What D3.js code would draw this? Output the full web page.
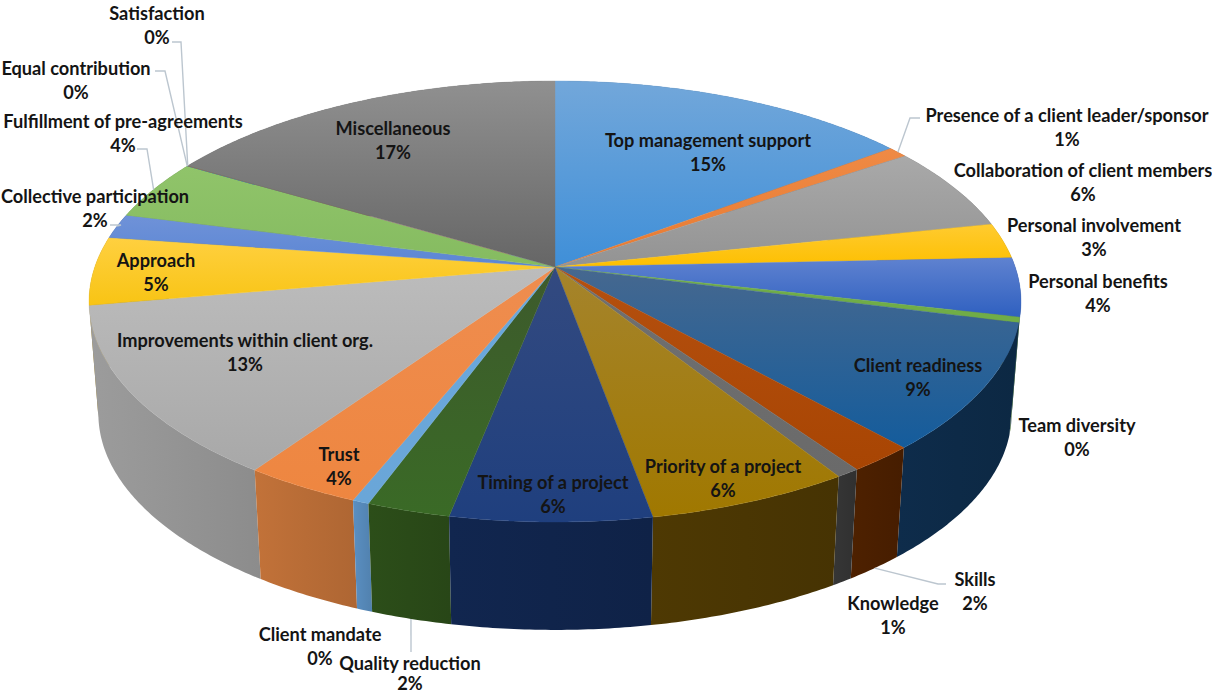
<!DOCTYPE html>
<html><head><meta charset="utf-8">
<script src="https://cdn.jsdelivr.net/npm/d3@7"></script>
<style>html,body{margin:0;padding:0;background:#fff;overflow:hidden}svg{display:block}
text{font-family:Lato,"Open Sans",sans-serif;font-weight:700;font-size:18.2px;fill:#141414;text-anchor:middle}</style>
</head><body><svg id="c" width="1212" height="693"></svg>
<script>
const categories=["Top management support","Presence of a client leader/sponsor","Collaboration of client members","Personal involvement","Personal benefits","Team diversity","Client readiness","Skills","Knowledge","Priority of a project","Timing of a project","Quality reduction","Client mandate","Trust","Improvements within client org.","Approach","Collective participation","Fulfillment of pre-agreements","Equal contribution","Satisfaction","Miscellaneous"];
const values=[14.7,0.8,6.2,2.6,4.3,0.4,9.3,2.0,0.7,6.1,6.0,2.5,0.5,3.5,12.6,5.0,1.8,4.4,0.03,0.03,16.5];
const percentLabels=["15%","1%","6%","3%","4%","0%","9%","2%","1%","6%","6%","2%","0%","4%","13%","5%","2%","4%","0%","0%","17%"];
const topStart=["#72a7da","#ef8a45","#a9a9a9","#ffcb30","#5f82d0","#70AD47","#46688f","#b5500f","#707070","#a5842c","#334a80","#3d5a2c","#6aa8dc","#ef8d4f","#bcbcbc","#ffd040","#6f92d8","#90c46a","#327DC2","#D26012","#909090"];
const topEnd=["#3f8fd8","#e87a30","#939393","#fdbf00","#2f60c0","#70AD47","#145c9c","#a84503","#6a6a6a","#a07800","#1f3f7e","#3a6a26","#6aa6d8","#ee8640","#a8a8a8","#f8c414","#5b86d4","#85bb60","#327DC2","#D26012","#666666"];
const sideColors=["#35608a","#934d1e","#666666","#9e7700","#2a4779","#456b2c","#0d2a47","#4a1f00","#333333","#4a3603","#10244b","#2a4a18","#5588b8","#b86c36","#949494","#9e7f20","#415881","#577842","#1f4d78","#82390b","#525252"];
const labelX=[708,1067,1083,1094,1098,1077,918,975,893,723,553,410,320,339,245,156,95,123,76,157,393];
const labelY=[147,122,177,232,288,432,372,586,610,473,489,670,641,461,347,267,203,128,75,20,135];
const percentDy=[24,24,24,24,24,24,24,24,24,24,24,20,24,24,24,24,24,24,24,24,24];
const leaders=[
 {i:1,elbow:[[920,118],[910,118]],base:false},
 {i:7,elbow:[[946,584],[938,584]],base:true},
 {i:11,elbow:[[411,652]],base:true},
 {i:16,elbow:[[110,225],[121,225]],base:false},
 {i:17,elbow:[[137,149],[147,149]],base:false},
 {i:18,elbow:[[155,71],[165,71]],base:false},
 {i:19,elbow:[[172,42],[181,42]],base:false}];

// perspective projection of the pie disc
const cx=555,cy=267,A=460.2,B=215.1,p=0.1565,drop=113,shrink=0.98;
const proj=(a,r,base)=>{const u=r*Math.sin(a),v=-r*Math.cos(a),w=1-p*v,s=base?shrink:1;
  return [cx+s*A*u/w,cy+(base?drop:0)+s*B*v/w];};
const arcs=d3.pie().sort(null).value(d=>d)(values);
const line=d3.line();
const steps=(a,b)=>{const n=Math.max(2,Math.ceil((b-a)/0.01));return d3.range(n+1).map(k=>a+(b-a)*k/n);};
const svg=d3.select("#c"),defs=svg.append("defs");
arcs.forEach((d,i)=>{
  const g=defs.append("linearGradient").attr("id","t"+i).attr("x1",0).attr("x2",0).attr("y1",0).attr("y2",1);
  g.append("stop").attr("offset",0).attr("stop-color",topStart[i]);
  g.append("stop").attr("offset",1).attr("stop-color",topEnd[i]);
  const w=defs.append("linearGradient").attr("id","w"+i).attr("x1",0).attr("x2",1).attr("y1",0).attr("y2",0);
  w.append("stop").attr("offset",0).attr("stop-color",d3.color(sideColors[i]).brighter(.15));
  w.append("stop").attr("offset",1).attr("stop-color",d3.color(sideColors[i]).darker(.15));
});
// side wall, back to front
const order=d3.range(arcs.length).sort((a,b)=>{
  const m=x=>(arcs[x].startAngle+arcs[x].endAngle)/2;return -Math.cos(m(a))+Math.cos(m(b));});
const wallG=svg.append("g");
order.forEach(i=>{const d=arcs[i],ts=steps(d.startAngle,d.endAngle);
  const pts=ts.map(a=>proj(a,1,false)).concat(ts.slice().reverse().map(a=>proj(a,1,true)));
  wallG.append("path").attr("d",line(pts)+"Z").attr("fill",`url(#w${i})`);});
// top face
svg.append("g").selectAll("path").data(arcs).join("path")
  .attr("d",d=>line([[cx,cy]].concat(steps(d.startAngle,d.endAngle).map(a=>proj(a,1,false))))+"Z")
  .attr("fill",(d,i)=>`url(#t${i})`)
  .attr("stroke",(d,i)=>values[i]<0.3?"none":`url(#t${i})`).attr("stroke-width",.4);
// leader lines
svg.append("g").selectAll("path").data(leaders).join("path")
  .attr("d",l=>{const d=arcs[l.i],m=(d.startAngle+d.endAngle)/2;return line(l.elbow.concat([proj(m,1,l.base)]));})
  .attr("fill","none").attr("stroke","#bcc6cf").attr("stroke-width",1.4);
// labels
const lab=svg.append("g").selectAll("g").data(categories).join("g");
lab.append("text").attr("x",(d,i)=>labelX[i]).attr("y",(d,i)=>labelY[i]).text(d=>d);
lab.append("text").attr("x",(d,i)=>labelX[i]).attr("y",(d,i)=>labelY[i]+percentDy[i]).text((d,i)=>percentLabels[i]);
</script></body></html>
